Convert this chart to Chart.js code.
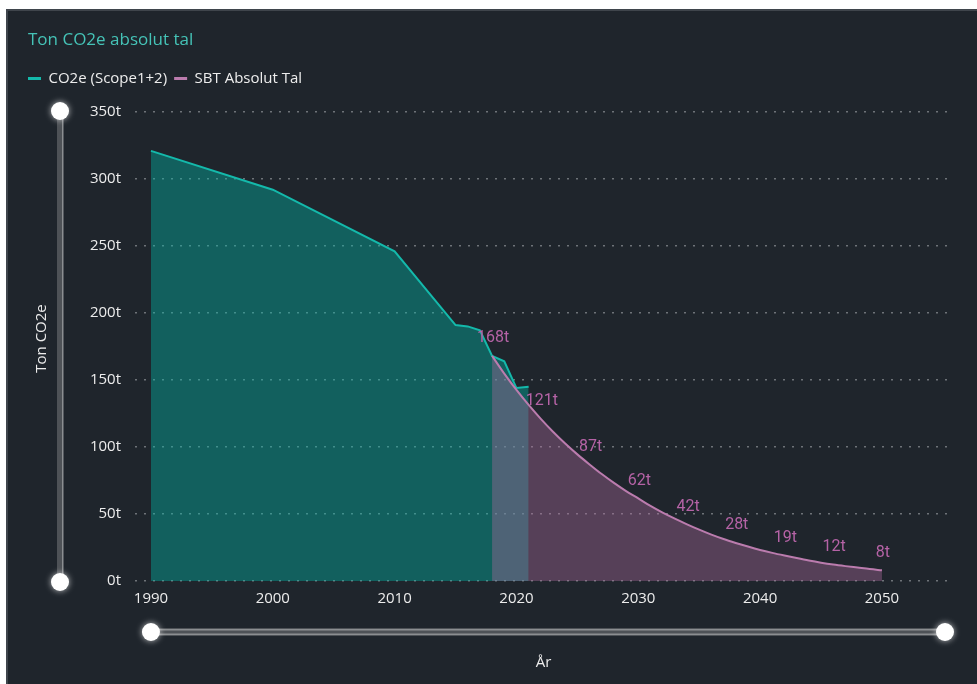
<!DOCTYPE html>
<html><head><meta charset="utf-8">
<script src="https://cdn.jsdelivr.net/npm/chart.js@4.4.1/dist/chart.umd.min.js"></script>
<style>html,body{margin:0;padding:0;background:#fff;overflow:hidden}#wrap{width:977px;height:684px;position:relative}</style>
</head><body><div id="wrap"><canvas id="c" width="977" height="684"></canvas></div>
<script>
// ---- data ----
const chartTitle = 'Ton CO2e absolut tal';
const seriesNames = ['CO2e (Scope1+2)', 'SBT Absolut Tal'];
const xAxisTitle = 'År';
const yAxisTitle = 'Ton CO2e';
const unit = 't';
const co2Years  = [1990, 2000, 2010, 2015, 2016, 2017, 2018, 2019, 2020, 2021];
const co2Values = [321, 292, 246, 191, 190, 187, 168, 164, 144, 145];
const sbtYears  = [2018, 2019, 2020, 2021, 2022, 2023, 2024, 2025, 2026, 2027, 2028, 2029, 2030, 2031, 2032, 2033, 2034,
                   2035, 2036, 2037, 2038, 2039, 2040, 2041, 2042, 2043, 2044, 2045, 2046, 2047, 2048, 2049, 2050];
const sbtValues = [168, 154.8, 142.6, 131.4, 121.0, 111.4, 102.6, 94.5, 87.0, 79.8, 73.2, 67.1, 61.6, 56.0, 51.0, 46.5, 42.3,
                   38.3, 34.6, 31.3, 28.4, 25.7, 23.2, 21.0, 19.0, 17.1, 15.3, 13.7, 12.3, 11.1, 10.0, 8.9, 8.0];
const sbtLabelYears = [2018, 2022, 2026, 2030, 2034, 2038, 2042, 2046, 2050];
const xTickValues = [1990, 2000, 2010, 2020, 2030, 2040, 2050];
const yTickValues = [0, 50, 100, 150, 200, 250, 300, 350];

// ---- styling ----
const BG = '#1f252c';
const TEAL = '#14b9ab';
const PINK = '#bb7cae';
const FONT = "'Open Sans', 'Noto Sans', sans-serif";
const TICK = '#ececec';
Chart.defaults.font.family = FONT;

const panelPlugin = {
  id: 'panel',
  beforeDraw(chart) {
    const ctx = chart.ctx;
    ctx.save();
    ctx.fillStyle = '#ffffff';
    ctx.fillRect(0, 0, chart.width, chart.height);
    ctx.fillStyle = BG;
    ctx.fillRect(6, 9, chart.width - 6, chart.height - 9);
    ctx.strokeStyle = '#3f454c';
    ctx.lineWidth = 2;
    ctx.beginPath();
    ctx.moveTo(7, chart.height); ctx.lineTo(7, 10); ctx.lineTo(chart.width, 10);
    ctx.stroke();
    ctx.restore();
  },
  afterLayout(chart) {
    if (chart.titleBlock) chart.titleBlock.left += 7;
  }
};

const labelPlugin = {
  id: 'sbtLabels',
  afterDatasetsDraw(chart) {
    const ctx = chart.ctx, xs = chart.scales.x, ys = chart.scales.y;
    ctx.save();
    ctx.font = "16px Roboto, 'Open Sans', sans-serif";
    ctx.fillStyle = '#b563a6';
    ctx.textAlign = 'center';
    ctx.textBaseline = 'middle';
    sbtLabelYears.forEach(yr => {
      const i = sbtYears.indexOf(yr);
      if (i < 0) return;
      const v = sbtValues[i];
      ctx.fillText(Math.round(v) + unit, xs.getPixelForValue(yr) + 1, ys.getPixelForValue(v) - 17.5);
    });
    ctx.restore();
  }
};

function knob(ctx, x, y) {
  ctx.save();
  ctx.shadowColor = 'rgba(255,255,255,0.7)';
  ctx.shadowBlur = 6;
  ctx.fillStyle = '#ffffff';
  ctx.beginPath(); ctx.arc(x, y, 9, 0, Math.PI * 2); ctx.fill();
  ctx.restore();
}

const sliderPlugin = {
  id: 'sliders',
  afterDraw(chart) {
    const ctx = chart.ctx, xs = chart.scales.x, ys = chart.scales.y, a = chart.chartArea;
    const yTop = ys.getPixelForValue(yTickValues[yTickValues.length - 1]) - 1;
    const yBot = ys.getPixelForValue(yTickValues[0]) + 1;
    const vx = 60;
    ctx.save();
    ctx.fillStyle = '#4e5257';
    ctx.fillRect(vx - 3, yTop, 6, yBot - yTop);
    ctx.fillStyle = '#8b8e91';
    ctx.fillRect(vx + 2, yTop, 1.5, yBot - yTop);
    knob(ctx, vx, yTop);
    knob(ctx, vx, yBot);
    const hy = 632;
    const hL = xs.getPixelForValue(xTickValues[0]);
    const hR = a.right - 7;
    ctx.fillStyle = '#4e5257';
    ctx.fillRect(hL, hy - 4, hR - hL, 8);
    ctx.fillStyle = '#8b8e91';
    ctx.fillRect(hL, hy - 3, hR - hL, 1.5);
    ctx.fillRect(hL, hy + 1.5, hR - hL, 1.5);
    knob(ctx, hL, hy);
    knob(ctx, hR, hy);
    ctx.restore();
  }
};

const co2Data = co2Years.map((x, i) => ({x, y: co2Values[i]}));
const sbtData = sbtYears.map((x, i) => ({x, y: sbtValues[i]}));

new Chart(document.getElementById('c'), {
  type: 'line',
  data: {
    datasets: [
      { label: seriesNames[0], data: co2Data, borderColor: TEAL, backgroundColor: 'rgba(1,184,170,0.4)',
        borderWidth: 2, fill: 'origin', pointRadius: 0, tension: 0, order: 1 },
      { label: seriesNames[1], data: sbtData, borderColor: PINK, backgroundColor: 'rgba(169,106,156,0.4)',
        borderWidth: 2, fill: 'origin', pointRadius: 0, cubicInterpolationMode: 'monotone', order: 0 }
    ]
  },
  plugins: [panelPlugin, labelPlugin, sliderPlugin],
  options: {
    responsive: false,
    animation: false,
    devicePixelRatio: 1,
    layout: { padding: { left: 21, right: 25, top: 0, bottom: 0 } },
    plugins: {
      tooltip: { enabled: false },
      title: {
        display: true, text: chartTitle, align: 'start', color: '#45c3b7',
        font: { size: 17, family: FONT, weight: 'normal' }, padding: { top: 29.6, bottom: 14 }
      },
      legend: {
        display: true, position: 'top', align: 'start',
        labels: {
          usePointStyle: true, pointStyle: 'line', pointStyleWidth: 13, padding: 7,
          color: '#ededed', font: { size: 15, family: FONT },
          sort: (a, b) => a.datasetIndex - b.datasetIndex,
          generateLabels(chart) {
            const items = Chart.defaults.plugins.legend.labels.generateLabels(chart);
            items.forEach(it => { it.lineWidth = 3; it.pointStyle = 'line'; });
            return items;
          }
        }
      }
    },
    scales: {
      x: {
        type: 'linear', min: 1988.69, max: 2055.75,
        afterBuildTicks: s => { s.ticks = xTickValues.map(v => ({value: v})); },
        afterFit: s => { s.height = 103; },
        grid: { display: false, drawTicks: false },
        border: { display: false },
        ticks: { autoSkip: false, maxRotation: 0, padding: 9, color: TICK, font: { size: 15 },
                 callback: v => String(v) },
        title: { display: true, text: xAxisTitle, color: TICK, font: { size: 15 }, padding: { bottom: 12.5, top: 0 } }
      },
      y: {
        type: 'linear', min: 0, max: 361.94,
        afterBuildTicks: s => { s.ticks = yTickValues.map(v => ({value: v})); },
        afterFit: s => { s.width = 114; },
        grid: { display: true, drawTicks: false, color: '#6e7378', lineWidth: 1.5 },
        border: { display: false, dash: [2, 7] },
        ticks: { padding: 14, color: TICK, font: { size: 15 }, callback: v => v + unit },
        title: { display: true, text: yAxisTitle, color: TICK, font: { size: 15 }, padding: { top: 12, bottom: 0 } }
      }
    }
  }
});
</script>
</body></html>
